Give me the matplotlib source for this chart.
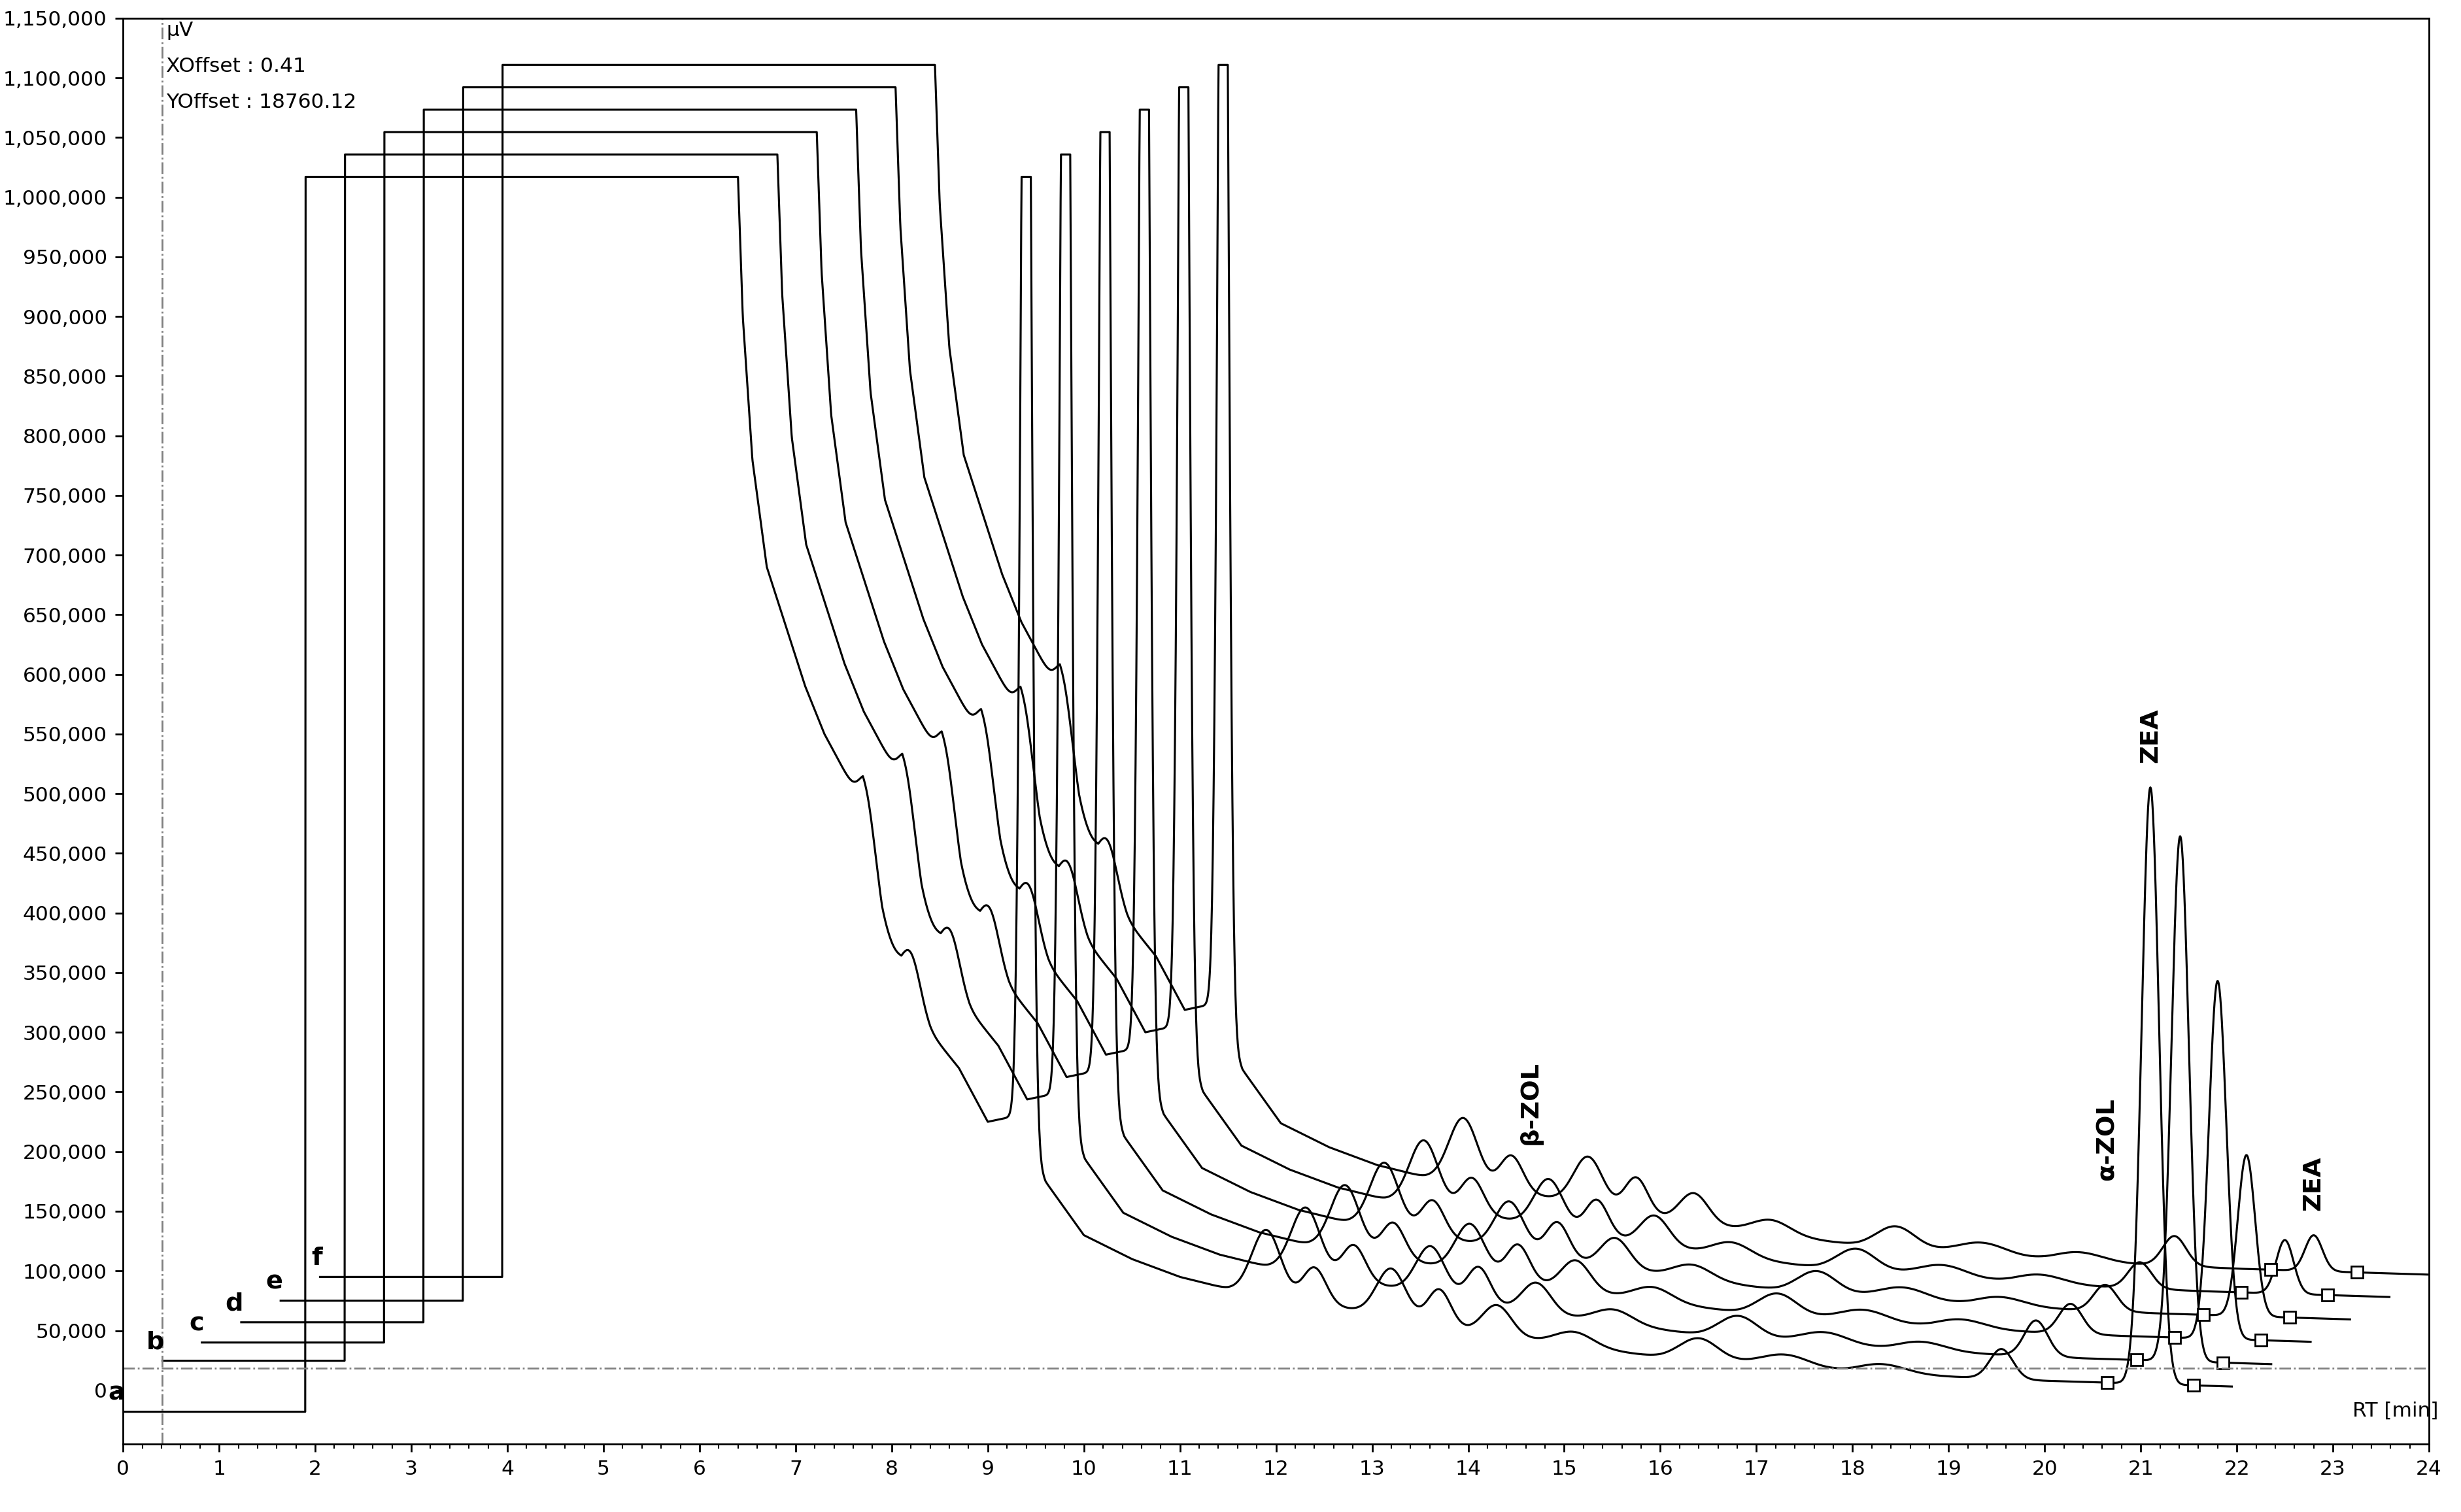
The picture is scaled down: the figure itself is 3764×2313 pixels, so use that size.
import numpy as np
import matplotlib.pyplot as plt
from matplotlib.ticker import FuncFormatter, MultipleLocator

# per trace offsets (a..f)
trace_names = ['a', 'b', 'c', 'd', 'e', 'f']
x_off = 0.41
y_off = 18760.12
pre_level = [-18000, 6000, 2500, 700, 0, 1200]      # raw level before injection front
jump_t = 1.9                                         # raw time of the saturated front
fall_t = 6.4
cap = 1017000

# background keypoints of raw trace (after the saturated plateau)
bg_t = [6.40, 6.45, 6.55, 6.70, 6.90, 7.10, 7.30, 7.50, 7.70, 7.90, 8.10, 8.40, 8.70, 9.00, 9.30,
        9.60, 10.0, 10.5, 11.0, 11.5, 12.0, 13.0, 14.0, 15.0, 16.0, 17.0, 18.0, 20.0, 22.0]
bg_y = [1017000, 900000, 780000, 690000, 640000, 590000, 550000, 520000, 490000, 400000,
        340000, 300000, 270000, 225000, 230000, 175000, 130000, 110000, 95000, 85000, 78000,
        65000, 50000, 38000, 28000, 22000, 15000, 8000, 3000]

# common peaks (raw rt, height, width)
pk_rt = [7.75, 8.20, 9.40, 11.90, 12.40, 13.20, 13.70, 14.30, 15.10, 16.40, 17.30, 18.30]
pk_h = [30000, 40000, 1300000, 55000, 30000, 40000, 30000, 25000, 12000, 18000, 10000, 8000]
pk_w = [0.08, 0.10, 0.05, 0.15, 0.12, 0.15, 0.12, 0.15, 0.20, 0.20, 0.25, 0.25]

# sample specific peaks: alpha-ZOL and ZEA (raw rt, height)
azol_rt = [19.55, 19.50, 19.45, 19.40, 19.35, 19.30]
azol_h = [25000, 30000, 25000, 22000, 22000, 25000]
zea_rt = [21.10, 21.00, 20.98, 20.87, 20.86, 20.75]
zea_h = [500000, 440000, 300000, 135000, 45000, 30000]

fig = plt.figure(figsize=(15.056, 9.252), dpi=250)
ax = fig.add_axes([0.05, 0.045, 0.937, 0.943])

t = np.arange(0, 21.95, 0.004)
for i, name in enumerate(trace_names):
    y = np.interp(t, bg_t, bg_y)
    for rt, h, w in zip(pk_rt, pk_h, pk_w):
        y = y + h * np.exp(-0.5 * ((t - rt) / w) ** 2)
    y = y + azol_h[i] * np.exp(-0.5 * ((t - azol_rt[i]) / 0.12) ** 2)
    y = y + zea_h[i] * np.exp(-0.5 * ((t - zea_rt[i]) / 0.09) ** 2)
    y = np.where(t < fall_t, cap, y)
    y = np.where(t < jump_t, pre_level[i], y)
    y = np.minimum(y, cap)
    xs = t + i * x_off
    ys = y + i * y_off
    k0 = int(i * x_off / 0.004) if i else 0
    ax.plot(xs, ys, color='black', lw=0.9)
    # integration marks around ZEA
    for b in (zea_rt[i] - 0.45, zea_rt[i] + 0.45):
        k = np.argmin(abs(t - b))
        ax.plot(xs[k], ys[k], 's', mfc='white', mec='black', ms=5, mew=0.8)
    ax.text(i * x_off + 0.02, pre_level[i] + i * y_off + 10000, name,
            fontsize=11, fontweight='bold', ha='right')

ax.axvline(x_off, color='gray', ls='-.', lw=0.8)
ax.axhline(y_off, color='gray', ls='-.', lw=0.8)

ax.text(0.45, 1135000, 'µV', fontsize=9)
ax.text(0.45, 1105000, 'XOffset : 0.41', fontsize=9)
ax.text(0.45, 1075000, 'YOffset : 18760.12', fontsize=9)
ax.text(23.2, -22000, 'RT [min]', fontsize=9)

ax.text(14.65, 210000, 'β-ZOL', rotation=90, ha='center', fontsize=11, fontweight='bold')
ax.text(20.65, 180000, 'α-ZOL', rotation=90, ha='center', fontsize=11, fontweight='bold')
ax.text(21.1, 530000, 'ZEA', rotation=90, ha='center', fontsize=11, fontweight='bold')
ax.text(22.8, 155000, 'ZEA', rotation=90, ha='center', fontsize=11, fontweight='bold')

ax.set_xlim(0, 24)
ax.set_ylim(-45000, 1150000)
ax.xaxis.set_major_locator(MultipleLocator(1))
ax.xaxis.set_minor_locator(MultipleLocator(0.2))
ax.yaxis.set_major_locator(MultipleLocator(50000))
ax.yaxis.set_major_formatter(FuncFormatter(lambda v, p: f'{int(v):,}'))
ax.tick_params(labelsize=9)

fig.savefig('out.png')
